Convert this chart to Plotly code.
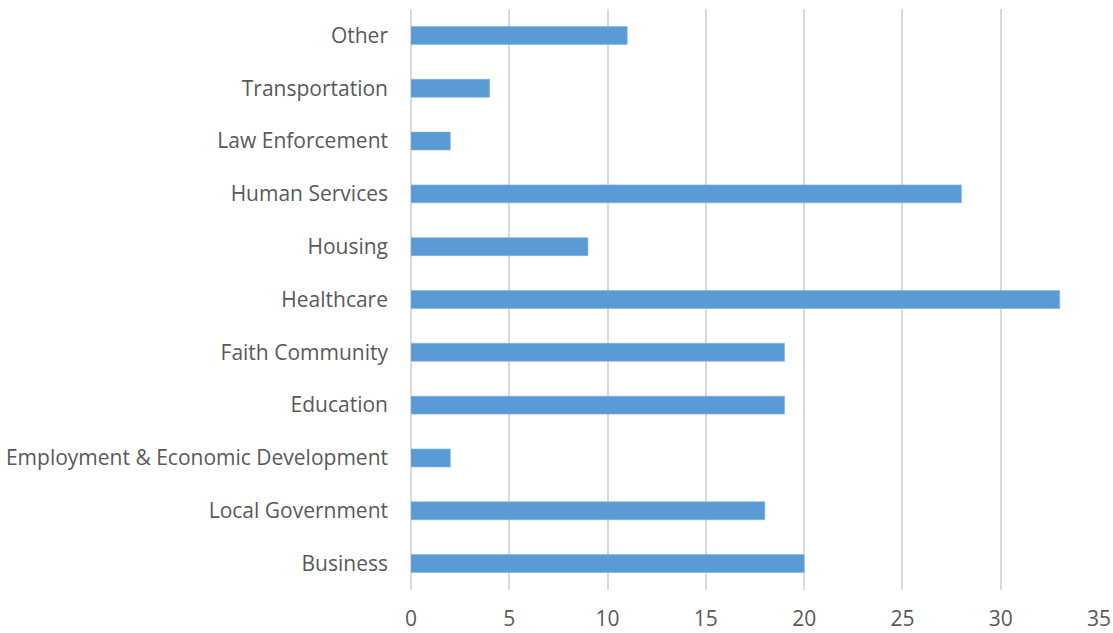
import plotly.graph_objects as go

categories = [
    "Business",
    "Local Government",
    "Employment & Economic Development",
    "Education",
    "Faith Community",
    "Healthcare",
    "Housing",
    "Human Services",
    "Law Enforcement",
    "Transportation",
    "Other",
]
counts = [20, 18, 2, 19, 19, 33, 9, 28, 2, 4, 11]
x_ticks = [0, 5, 10, 15, 20, 25, 30, 35]

fig = go.Figure(
    go.Bar(
        x=counts,
        y=categories,
        orientation="h",
        marker=dict(color="#5B9BD5", line=dict(color="#7FB2E0", width=0.6)),
        width=0.34,
    )
)

fig.update_layout(
    width=1113,
    height=633,
    margin=dict(l=411, r=14, t=9, b=43),
    plot_bgcolor="white",
    paper_bgcolor="white",
    font=dict(family="Open Sans", size=21, color="#595959"),
    showlegend=False,
)
fig.update_xaxes(
    range=[0, 35],
    tickvals=x_ticks,
    showgrid=True,
    gridcolor="#D9D9D9",
    gridwidth=1.5,
    zeroline=True,
    zerolinecolor="#D9D9D9",
    zerolinewidth=1.5,
    showline=False,
    ticks="",
    ticklabelstandoff=14,
    automargin=False,
)
fig.update_yaxes(
    categoryorder="array",
    categoryarray=categories,
    showgrid=False,
    showline=False,
    ticks="",
    ticklabelstandoff=22,
    automargin=False,
)

fig.write_html("out.html")
